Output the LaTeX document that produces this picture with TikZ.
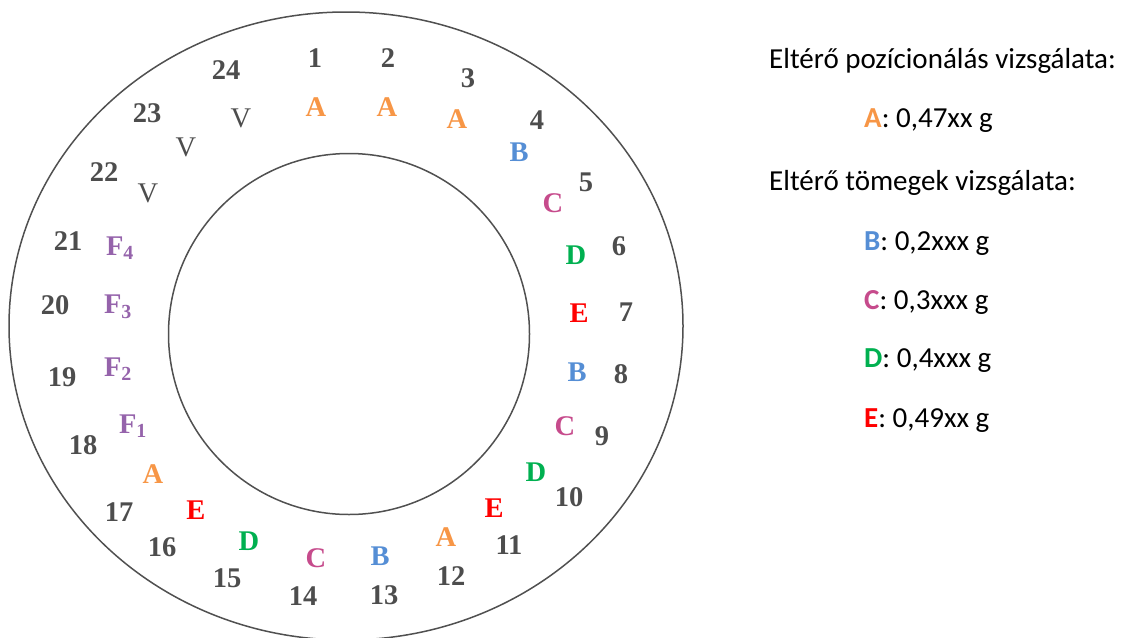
\documentclass[tikz,border=0pt]{standalone}
\usepackage{fontspec}
\setmainfont{Liberation Serif}
\newfontfamily\legendfont{Carlito}
\usetikzlibrary{positioning}
\definecolor{numgray}{HTML}{4D4D4D}
\definecolor{ringgray}{HTML}{505050}
\definecolor{orangeA}{HTML}{F79646}
\definecolor{blueB}{HTML}{558ED5}
\definecolor{pinkC}{HTML}{C64B8C}
\definecolor{greenD}{HTML}{00B050}
\definecolor{redE}{HTML}{FF0000}
\definecolor{purpleF}{HTML}{9563AB}

\begin{document}
\begin{tikzpicture}[x=1pt,y=-1pt,
    num/.style={inner sep=0pt,text=numgray,font=\fontsize{28.5}{28.5}\selectfont\bfseries},
    lab/.style={inner sep=0pt,font=\fontsize{28.5}{28.5}\selectfont\bfseries},
    vlab/.style={inner sep=0pt,text=numgray,font=\fontsize{28.5}{28.5}\selectfont},
    legend/.style={inner sep=0pt,anchor=base west,font=\legendfont\fontsize{29}{29}\selectfont}]
  \useasboundingbox (0,0) rectangle (1124,637);
  % rings
  \draw[ringgray,line width=1.5pt] (346,326) ellipse [x radius=337,y radius=314];
  \draw[ringgray,line width=1.5pt] (349,334) circle [radius=180.5];
  % position numbers
  \foreach \n/\x/\y in {1/315/58,2/388/58,3/468/78,4/537/120,5/586/182,
      6/619/246,7/626/312,8/621/374,9/602/436,10/569/497,11/509/545,
      12/451/576,13/384/595,14/303/596,15/227/578,16/162/547,17/119/512,
      18/83/445,19/62/377,20/55/305,21/68/241,22/104/172,23/147/113,24/226/70}
    \node[num] (n\n) at (\x,\y) {\n};
  % samples
  \foreach \i/\x/\y/\c/\t in {1/316/107/orangeA/A,2/387/107/orangeA/A,
      3/457/119/orangeA/A,4/519/152/blueB/B,5/553/203/pinkC/C,
      6/576/255/greenD/D,7/579/313/redE/E,8/577/372/blueB/B,
      9/565/426/pinkC/C,10/536/472/greenD/D,11/494/508/redE/E,
      12/446/537/orangeA/A,13/380/556/blueB/B,14/316/558/pinkC/C,
      15/249/541/greenD/D,16/196/510/redE/E,17/153/474/orangeA/A}
    \node[lab,text=\c] (s\i) at (\x,\y) {\t};
  \foreach \k/\x/\y in {1/133/426,2/118/369,3/118/307,4/120/248}
    \node[lab,text=purpleF] (f\k) at (\x,\y) {F\textsubscript{\k}};
  \foreach \k/\x/\y in {1/148/193,2/186/147,3/241/118}
    \node[vlab] (v\k) at (\x,\y) {V};
  % legend
  \node[legend] (h1) at (769,68) {Eltérő pozícionálás vizsgálata:};
  \node[legend] (kA) at (864,127) {\textcolor{orangeA}{\bfseries A}: 0,47xx g};
  \node[legend] (h2) at (769,190) {Eltérő tömegek vizsgálata:};
  \node[legend] (kB) at (864,250) {\textcolor{blueB}{\bfseries B}: 0,2xxx g};
  \node[legend] (kC) at (864,309) {\textcolor{pinkC}{\bfseries C}: 0,3xxx g};
  \node[legend] (kD) at (864,367) {\textcolor{greenD}{\bfseries D}: 0,4xxx g};
  \node[legend] (kE) at (864,427) {\textcolor{redE}{\bfseries E}: 0,49xx g};
\end{tikzpicture}
\end{document}
